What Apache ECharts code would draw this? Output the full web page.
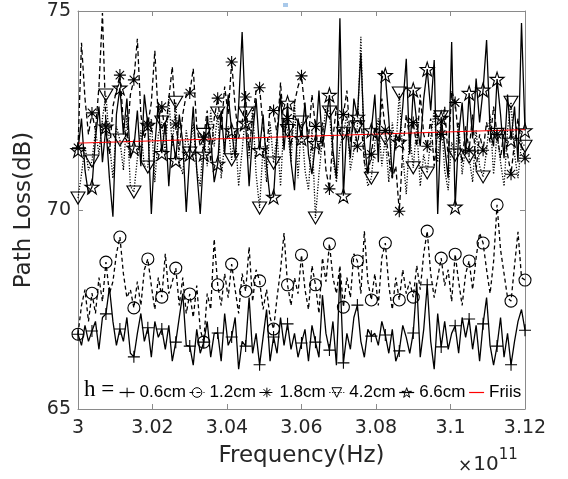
<!DOCTYPE html>
<html><head><meta charset="utf-8">
<script src="https://cdn.jsdelivr.net/npm/echarts@6/dist/echarts.min.js"></script>
<style>html,body{margin:0;padding:0;background:#fff}#c{width:568px;height:479px}</style>
</head><body><div id="c"></div><script>
// Frequency range in units of 10^11 Hz (uniform sampling grid)
const freqStart = 3.0, freqEnd = 3.12;
const seriesNames = ['0.6cm', '1.2cm', '1.8cm', '4.2cm', '6.6cm', 'Friis'];

const loss06 = [
66.88,66.6,67.1,66.7, 66.96,67.2,66.5,67.3, 67.39,68.06,67.2,66.6, 67.01,66.7,67.3,66.4,
66.31,66.9,67.4,66.7, 67.04,66.3,67.2,66.8, 67.01,66.5,67.1,66.2, 66.68,67.3,67.9,66.6,
66.58,66.1,67.0,66.4, 66.68,67.2,66.3,66.9, 66.91,66.2,67.4,66.6, 66.81,67.3,66.0,66.7,
66.58,67.8,66.4,66.9, 66.11,66.8,67.5,66.2, 66.81,66.4,67.3,66.6, 67.14,66.5,66.9,66.3,
66.66,67.0,66.2,67.1, 66.68,66.3,67.86,66.9, 66.48,67.2,66.1,68.42, 66.16,66.9,66.5,67.3,
67.61,66.7,66.3,67.0, 66.83,66.9,66.6,67.2, 66.86,66.4,67.0,66.2, 66.46,67.1,66.8,66.4,
66.91,68.17,66.3,67.0, 68.12,66.7,66.0,67.4, 66.56,67.2,66.5,66.9, 67.09,66.4,67.3,66.8,
67.26,66.5,67.1,66.2, 67.14,67.8,66.6,66.1, 66.58,67.3,66.3,66.9, 66.11,66.7,67.2,67.5,
66.98];

const loss12 = [
66.88,67.6,68.0,67.2, 67.91,67.4,68.3,67.7, 68.69,67.9,68.2,68.9, 69.32,68.4,67.8,68.0,
67.54,68.2,67.6,68.5, 68.77,68.1,67.5,68.3, 67.81,68.9,67.9,68.2, 68.54,67.6,68.3,67.4,
67.89,67.3,68.1,67.0, 66.68,67.9,67.5,69.27, 68.12,67.6,68.4,67.8, 68.64,68.0,67.4,68.4,
67.96,69.07,67.7,68.5, 68.22,67.5,68.0,67.3, 67.01,67.8,68.5,69.42, 68.12,67.6,68.3,67.9,
68.87,68.0,67.5,68.6, 68.12,67.4,68.8,68.2, 69.15,68.3,67.9,68.6, 67.56,68.3,67.8,68.9,
68.72,67.9,69.47,68.2, 67.74,68.4,67.6,68.8, 69.17,68.1,67.5,68.3, 67.74,68.5,67.9,68.2,
67.81,68.6,68.0,68.9, 69.47,68.4,67.8,68.3, 68.79,68.1,68.5,67.7, 68.89,68.2,67.6,68.4,
68.72,68.0,68.8,69.42, 69.17,68.5,67.9,68.7, 70.13,69.0,68.4,67.8, 67.71,68.6,69.45,68.3,
68.24];

const loss18 = [
71.56,74.2,72.8,71.9, 72.44,72.0,73.1,74.95, 72.09,71.4,72.6,73.0, 73.39,72.2,71.7,72.9,
73.27,74.3,72.4,71.8, 72.14,72.7,74.0,72.3, 72.59,71.9,72.8,73.6, 72.16,71.5,72.4,72.9,
72.94,73.55,72.1,71.6, 71.83,72.5,71.2,72.3, 72.81,72.0,73.1,72.4, 73.72,72.6,71.8,72.2,
72.84,71.5,72.3,73.0, 73.07,72.1,71.4,72.6, 72.5,71.9,73.2,72.0, 72.3,71.6,72.7,73.1,
73.37,72.5,71.8,72.9, 72.1,71.4,72.2,71.0, 70.53,71.8,72.6,71.9, 72.4,73.0,71.7,72.2,
71.6,72.3,71.2,70.9, 71.4,72.1,71.6,72.8, 72.0,71.3,70.8,71.1, 69.97,71.5,72.4,71.8,
72.2,71.6,72.9,71.9, 71.6,72.3,71.1,72.0, 71.9,72.6,71.3,73.0, 72.7,71.8,71.2,72.1,
71.5,72.4,71.0,71.9, 71.5,72.2,71.7,72.6, 71.9,71.3,72.0,71.4, 70.9,71.7,72.3,71.6,
71.3];

const loss42 = [
70.30,70.9,71.6,71.0, 71.23,72.0,71.4,72.3, 72.89,71.7,70.8,72.1, 71.76,71.0,72.4,70.6,
70.45,71.3,72.0,71.1, 71.08,72.3,70.7,71.9, 72.21,71.4,72.8,71.6, 72.71,71.2,70.9,72.0,
71.43,72.2,71.0,70.6, 71.9,71.1,72.5,71.6, 72.44,70.8,71.7,72.1, 71.26,72.0,70.6,71.5,
72.44,71.3,72.6,70.9, 70.05,71.6,70.7,72.2, 71.18,71.9,70.6,72.3, 72.0,71.2,72.7,70.8,
72.21,71.0,70.5,72.0, 69.8,70.9,71.8,72.6, 72.46,71.3,70.7,71.6, 71.93,72.4,71.0,71.5,
72.09,74.35,71.2,70.6, 70.80,71.7,72.3,71.1, 71.8,70.7,72.2,71.5, 72.94,71.4,70.4,71.9,
71.06,72.1,70.6,71.4, 70.93,71.8,72.5,71.2, 72.34,71.0,70.5,71.7, 71.38,72.2,70.9,71.6,
71.33,70.7,72.0,71.1, 70.83,71.5,72.4,70.9, 71.9,71.2,70.6,72.0, 72.71,71.4,70.8,71.7,
71.6];

const loss66 = [
71.5,72.3,71.0,70.4, 70.58,71.8,72.6,71.2, 72.09,70.8,69.83,72.4, 73.07,71.9,72.8,71.3,
71.56,72.5,71.1,72.9, 72.14,69.9,71.6,72.7, 71.43,72.2,70.6,71.9, 71.25,72.4,71.7,69.95,
71.41,72.6,71.0,69.9, 71.41,72.3,71.8,70.7, 71.16,72.5,71.4,72.9, 72.0,71.3,72.6,74.47,
72.19,70.6,71.9,72.8, 71.5,72.4,71.1,70.3, 70.33,71.8,72.9,71.5, 72.69,71.2,70.5,72.3,
71.8,72.7,71.4,70.9, 71.68,73.0,71.6,72.2, 72.89,71.5,70.8,74.82, 70.36,72.1,71.3,72.8,
72.34,73.94,71.7,70.9, 72.0,72.9,71.2,73.5, 73.39,72.3,70.8,71.9, 71.71,72.6,73.8,71.4,
73.02,72.2,71.6,72.8, 73.54,72.5,73.77,69.9, 72.31,71.6,70.8,74.22, 70.08,71.9,72.7,71.4,
72.94,71.8,73.3,72.2, 73.02,74.27,72.0,71.6, 73.29,72.4,71.3,72.9, 71.76,72.6,71.2,74.70,
72.0];

const friisFreq = [3.0, 3.12];
const friisLoss = [71.68, 72.02];

const markerEvery = 4;
const SYM = {
  plus: 'path://M0,5L10,5M5,0L5,10',
  circle: 'circle',
  aster: 'path://M5,0L5,10M0,5L10,5M1.5,1.5L8.5,8.5M8.5,1.5L1.5,8.5',
  tri: 'path://M0,0L10,0L5,8.7Z',
  star: 'path://M5,0L6.123,3.455L9.755,3.455L6.816,5.59L7.939,9.045L5,6.91L2.061,9.045L3.184,5.59L0.245,3.455L3.877,3.455Z'
};

function buildData(vals) {
  const n = vals.length;
  return vals.map((v, i) => {
    const f = freqStart + (freqEnd - freqStart) * i / (n - 1);
    return i % markerEvery === 0 ? [f, v] : { value: [f, v], symbol: 'none' };
  });
}
function mk(name, vals, symbol, size, dash) {
  return {
    type: 'line', name: name, data: buildData(vals),
    symbol: symbol, symbolSize: size, showSymbol: true, showAllSymbol: true,
    lineStyle: { color: '#000', width: 1.3, type: dash },
    itemStyle: { color: 'rgba(0,0,0,0)', borderColor: '#000', borderWidth: 1.1 },
    emphasis: { disabled: true }, silent: true
  };
}

const series = [
  mk(seriesNames[0], loss06, SYM.plus, 12, 'solid'),
  mk(seriesNames[1], loss12, SYM.circle, 12, [4, 3]),
  mk(seriesNames[2], loss18, SYM.aster, 12, [5, 3]),
  mk(seriesNames[3], loss42, SYM.tri, [14, 12], [1.2, 1.6]),
  mk(seriesNames[4], loss66, SYM.star, 14, 'solid'),
  {
    type: 'line', name: seriesNames[5],
    data: friisFreq.map((f, i) => ({ value: [f, friisLoss[i]], symbol: 'none' })),
    symbol: 'circle', showSymbol: false,
    lineStyle: { color: '#ff0000', width: 1 },
    itemStyle: { color: 'rgba(0,0,0,0)', borderColor: 'rgba(0,0,0,0)', borderWidth: 0 },
    emphasis: { disabled: true }, silent: true
  }
];

const axisGray = '#8a8a8a';
const labelFont = 'DejaVu Sans';
const chart = echarts.init(document.getElementById('c'), null, { renderer: 'canvas' });
chart.setOption({
  animation: false,
  backgroundColor: '#fff',
  grid: { left: 78, right: 43, top: 11, bottom: 70, containLabel: false },
  xAxis: [{
    type: 'value', min: 3, max: 3.12, interval: 0.02, position: 'bottom',
    axisLine: { show: true, lineStyle: { color: axisGray, width: 1 } },
    axisTick: { show: true, inside: true, length: 5, lineStyle: { color: axisGray } },
    splitLine: { show: false },
    axisLabel: { color: '#262626', fontFamily: labelFont, fontSize: 19, margin: 10 },
    name: 'Frequency(Hz)', nameLocation: 'middle', nameGap: 36,
    nameTextStyle: { color: '#262626', fontFamily: labelFont, fontSize: 23 }
  }, {
    type: 'value', min: 3, max: 3.12, interval: 0.02, position: 'top',
    axisLine: { show: true, lineStyle: { color: axisGray, width: 1 } },
    axisTick: { show: true, inside: true, length: 5, lineStyle: { color: axisGray } },
    splitLine: { show: false }, axisLabel: { show: false }
  }],
  yAxis: [{
    type: 'value', min: 65, max: 75, interval: 5, position: 'left',
    axisLine: { show: true, lineStyle: { color: axisGray, width: 1 } },
    axisTick: { show: true, inside: true, length: 5, lineStyle: { color: axisGray } },
    splitLine: { show: false },
    axisLabel: { color: '#262626', fontFamily: labelFont, fontSize: 19, margin: 7 },
    name: 'Path Loss(dB)', nameLocation: 'middle', nameGap: 38,
    nameTextStyle: { color: '#262626', fontFamily: labelFont, fontSize: 23 }
  }, {
    type: 'value', min: 65, max: 75, interval: 5, position: 'right',
    axisLine: { show: true, lineStyle: { color: axisGray, width: 1 } },
    axisTick: { show: true, inside: true, length: 5, lineStyle: { color: axisGray } },
    splitLine: { show: false }, axisLabel: { show: false }
  }],
  legend: {
    data: seriesNames, left: 119, top: 384, width: 440, orient: 'horizontal',
    itemWidth: 15, itemHeight: 12, itemGap: 3, padding: 0,
    selectedMode: false,
    textStyle: { color: '#000', fontFamily: "'Liberation Sans', Arial, sans-serif", fontSize: 17 },
    itemStyle: { borderWidth: 1 },
    lineStyle: { width: 1.2 }
  },
  graphic: [
    { type: 'text', left: 84, top: 378, style: { text: 'h =', font: '23px "Liberation Serif", serif', fill: '#000' } },
    { type: 'text', left: 458, top: 448, style: {
        text: '{a|×}{b|10}{c|11}',
        rich: {
          a: { fontFamily: labelFont, fontSize: 17, fill: '#262626', verticalAlign: 'bottom', padding: [0, 1, 0, 0] },
          b: { fontFamily: labelFont, fontSize: 20, fill: '#262626', verticalAlign: 'bottom' },
          c: { fontFamily: labelFont, fontSize: 15, fill: '#262626', verticalAlign: 'top', padding: [0, 0, 12, 0] }
        } } },
    { type: 'rect', left: 283, top: 3, shape: { width: 5, height: 4 }, style: { fill: '#a9c9ea' } }
  ],
  series: series
});
</script></body></html>
